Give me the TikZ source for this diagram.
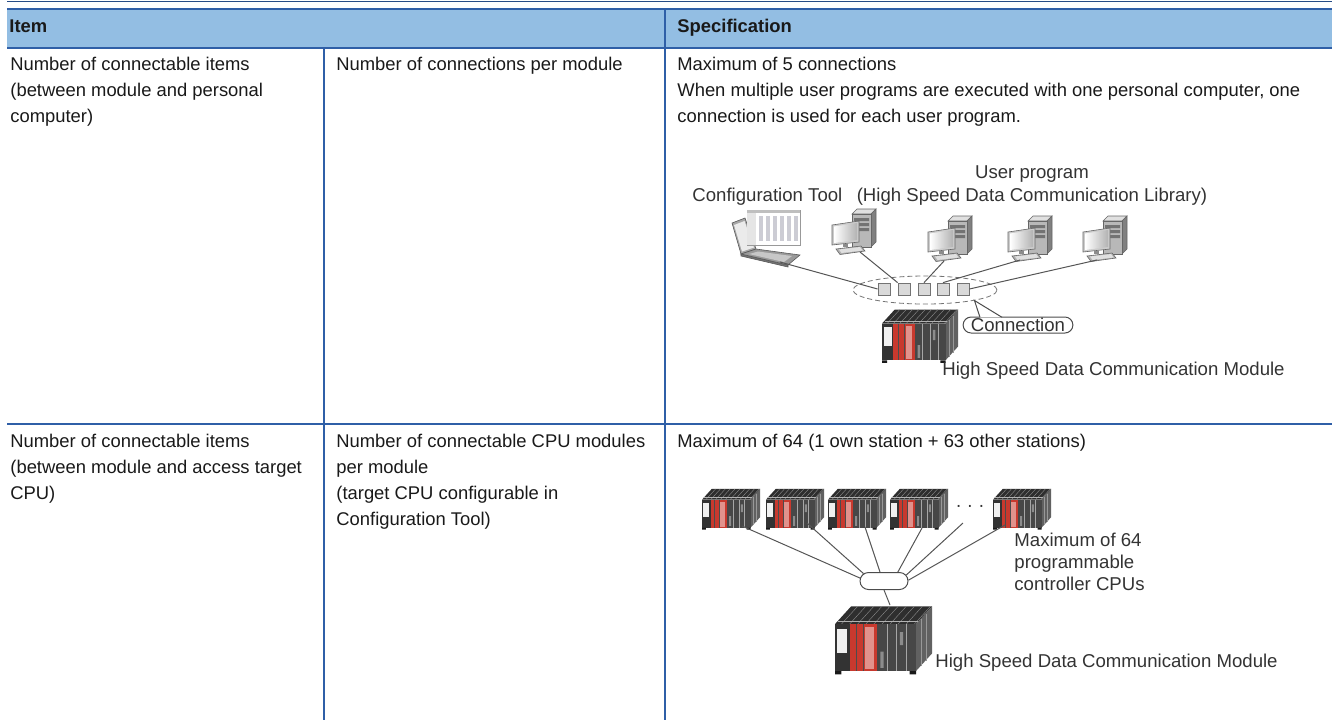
\documentclass[tikz,border=0pt]{standalone}
\usepackage{fontspec}
\setmainfont{Liberation Sans}
\usepackage{tikz}
\usetikzlibrary{shapes.geometric,shapes.misc,positioning,calc}

\definecolor{headblue}{HTML}{93BEE3}
\definecolor{ruleblue}{HTML}{2F5FA7}
\definecolor{plcred}{HTML}{C8392E}
\definecolor{linkgray}{HTML}{555555}

\newcommand{\cellfont}{\fontsize{9.2}{13}\selectfont}
\newcommand{\figfont}{\fontsize{9.3}{11}\selectfont}

% programmable controller rack, top left corner at (#1,#2), scale #3
\newcommand{\plcunit}[3]{%
  \begin{scope}[shift={(#1,#2)}, scale=#3]
    \fill[black!82] (0,13) -- (10,2) -- (60,2) -- (50,13) -- cycle;
    \foreach \k in {14,19,...,59} \draw[black!45, line width=0.2pt] (\k-10,13) -- (\k,2);
    \draw[black!30, line width=0.2pt] (2,11) -- (52,11);
    \fill[black!62] (50,13) -- (60,2) -- (60,31) -- (50,42) -- cycle;
    \draw[black!40, line width=0.2pt] (53,10) -- (53,39) (56,7) -- (56,36);
    \fill[black!80] (0,13) rectangle (9,42);
    \fill[black!6] (1.5,16) rectangle (7.5,31);
    \fill[plcred] (9,13) rectangle (26,42);
    \fill[plcred!55!white] (18.5,15) rectangle (24,41);
    \draw[black!70, line width=0.3pt] (13,13) -- (13,42) (17.5,13) -- (17.5,42);
    \fill[black!72] (26,13) rectangle (50,42);
    \foreach \k in {32,38,44} \draw[black!35, line width=0.3pt] (\k,13) -- (\k,42);
    \fill[black!45] (28,30) rectangle (30,40) (40,18) rectangle (42,26);
    \fill[black!90] (0,42) rectangle (4,44) (46,42) rectangle (50,44);
  \end{scope}}

% desktop personal computer, top left corner at (#1,#2)
\newcommand{\pcunit}[2]{%
  \begin{scope}[shift={(#1,#2)}, line width=0.3pt]
    \filldraw[draw=black!60, fill=black!12] (20,6) -- (25,1) -- (44,1) -- (39,6) -- cycle;
    \filldraw[draw=black!60, fill=black!50] (39,6) -- (44,1) -- (44,34) -- (39,39) -- cycle;
    \filldraw[draw=black!60, fill=black!28] (20,6) rectangle (39,39);
    \fill[black!55] (22,10) rectangle (37,13) (22,15) rectangle (37,18) (22,20) rectangle (37,23);
    \filldraw[draw=black!60, fill=black!20] (0,17) -- (27,13) -- (27,34) -- (0,37) -- cycle;
    \shade[left color=white, right color=black!30] (2,18.5) -- (25,15) -- (25,32) -- (2,35) -- cycle;
    \fill[black!45] (11,36) rectangle (16,39);
    \filldraw[draw=black!60, fill=black!30] (4,41) -- (29,38) -- (33,43) -- (8,46.5) -- cycle;
    \fill[black!12] (7,41.5) -- (28,39) -- (30.5,42.5) -- (9.5,45) -- cycle;
  \end{scope}}

% notebook with the tool window, top left corner at (#1,#2)
\newcommand{\laptopunit}[2]{%
  \begin{scope}[shift={(#1,#2)}, line width=0.3pt]
    \filldraw[draw=black!65, fill=black!35] (0,13) -- (13,8) -- (24,39) -- (9,44) -- cycle;
    \fill[black!8] (2,15) -- (12.5,11) -- (22,37.5) -- (10,41.5) -- cycle;
    \filldraw[draw=black!65, fill=black!55] (9,44) -- (9,46) -- (56,57) -- (56,55) -- cycle;
    \filldraw[draw=black!65, fill=black!40] (9,44) -- (24,39) -- (68,45) -- (56,55) -- cycle;
    \fill[black!22] (17,44) -- (26,41.5) -- (60,46) -- (52,52) -- cycle;
    \filldraw[draw=black!40, fill=white] (15,0) rectangle (68,35);
    \fill[black!25] (15,0) rectangle (68,2.5);
    \fill[black!10] (15,2.5) rectangle (24,35);
    \foreach \k in {27,34,41,48,55,62} \fill[blue!15!black!20] (\k,6) rectangle (\k+4,31);
  \end{scope}}

\begin{document}
\begin{tikzpicture}[
    x=0.5pt, y=-0.5pt,
    tabrule/.style={draw=ruleblue, line width=0.9pt},
    cell/.style={anchor=north west, inner sep=0pt, align=left, font=\cellfont, text=black!90},
    headtext/.style={anchor=base west, inner sep=0pt, font=\cellfont\bfseries, text=black!90},
    figtext/.style={anchor=base west, inner sep=0pt, font=\figfont, text=black!80},
    link/.style={draw=linkgray, line width=0.5pt},
    connsq/.style={draw=black!55, fill=black!15, line width=0.4pt, minimum size=6pt, inner sep=0pt},
    hubnode/.style={rounded rectangle, draw=black!70, fill=white, line width=0.5pt, minimum width=24pt, minimum height=8.5pt, inner sep=0pt}
]
    \useasboundingbox (0,0) rectangle (1332,720);

    % table
    \fill[headblue] (7,9) rectangle (1332,48);
    \draw[draw=ruleblue!80!black, line width=0.5pt] (7,1) -- (1332,1);
    \draw[tabrule] (7,9) -- (1332,9);
    \draw[tabrule] (7,48) -- (1332,48);
    \draw[tabrule] (7,424) -- (1332,424);
    \draw[tabrule] (324,48) -- (324,720);
    \draw[tabrule] (665,9) -- (665,720);

    \node[headtext] (itemhead) at (9,32) {Item};
    \node[headtext] (spechead) at (677,32) {Specification};

    \node[cell] (pcitem) at (10,51.8) {\strut Number of connectable items\\(between module and personal\\computer)};
    \node[cell] (pcsub) at (336,51.8) {\strut Number of connections per module};
    \node[cell] (pcspec) at (677,51.8) {\strut Maximum of 5 connections\\When multiple user programs are executed with one personal computer, one\\connection is used for each user program.};

    \node[cell] (cpuitem) at (10,428.8) {\strut Number of connectable items\\(between module and access target\\CPU)};
    \node[cell] (cpusub) at (336,428.8) {\strut Number of connectable CPU modules\\per module\\(target CPU configurable in\\Configuration Tool)};
    \node[cell] (cpuspec) at (677,428.8) {\strut Maximum of 64 (1 own station + 63 other stations)};

    % connections to personal computers
    \node[figtext] (cfgtoollabel) at (692,201) {Configuration Tool};
    \node[figtext, anchor=base] (userproglabel) at (1032,178) {User program};
    \node[figtext, anchor=base] (userliblabel) at (1032,201) {(High Speed Data Communication Library)};

    \laptopunit{732}{210}
    \pcunit{832}{208}
    \pcunit{928}{215}
    \pcunit{1008}{215}
    \pcunit{1083}{215}
    \plcunit{882}{307}{1.27}

    \coordinate (laptopport) at (780,262);
    \coordinate (pc1port) at (860,252);
    \coordinate (pc2port) at (944,261);
    \coordinate (pc3port) at (1020,260);
    \coordinate (pc4port) at (1097,260);

    \node[ellipse, draw=black!55, dash pattern=on 2.5pt off 1.5pt, line width=0.4pt, minimum width=72pt, minimum height=14pt, inner sep=0pt] (connring) at (925,290) {};
    \node[connsq] (conn1) at (884,289) {};
    \node[connsq] (conn2) at (904,289) {};
    \node[connsq] (conn3) at (924,289) {};
    \node[connsq] (conn4) at (943,289) {};
    \node[connsq] (conn5) at (963,289) {};

    \draw[link] (laptopport) -- (conn1.west);
    \draw[link] (pc1port) -- (conn2.north west);
    \draw[link] (pc2port) -- (conn3.north);
    \draw[link] (pc3port) -- (conn4.north);
    \draw[link] (pc4port) -- (conn5.east);

    \node[rounded rectangle, draw=black!70, line width=0.5pt, fill=white, font=\figfont, text=black!80, minimum height=8pt, inner ysep=0pt, inner xsep=2pt] (connlabel) at (1018,325) {Connection};
    \coordinate (tailtip) at (connring.-12);
    \coordinate (taila) at ($(connlabel.north)+(-38,0.8)$);
    \coordinate (tailb) at ($(connlabel.north)+(-16,0.8)$);
    \fill[white] (taila) -- (tailtip) -- (tailb) -- cycle;
    \draw[black!70, line width=0.5pt] (taila) -- (tailtip) -- (tailb);

    \node[figtext] (hsmodlabel) at (942,375) {High Speed Data Communication Module};

    % connections to CPU modules
    \plcunit{702}{487}{0.97}
    \plcunit{766}{487}{0.97}
    \plcunit{828}{487}{0.97}
    \plcunit{890}{487}{0.97}
    \plcunit{993}{487}{0.97}
    \plcunit{835}{603}{1.62}
    \node[font=\figfont, text=black!80, inner sep=0pt] (cpudots) at (970,508) {· · ·};

    \coordinate (cpuport1) at (742,526);
    \coordinate (cpuport2) at (807,523);
    \coordinate (cpuport3) at (865,527);
    \coordinate (cpuport4) at (922,528);
    \coordinate (dotsport) at (963,523);
    \coordinate (cpuport5) at (1005,525);
    \coordinate (mainport) at (890,605);

    \node[hubnode] (hub) at (884,581) {};
    \draw[link] (cpuport1) -- (hub.173);
    \draw[link] (cpuport2) -- (hub.160);
    \draw[link] (cpuport3) -- (hub.114);
    \draw[link] (cpuport4) -- (hub.33);
    \draw[link] (dotsport) -- (hub.15);
    \draw[link] (cpuport5) -- (hub.2);
    \draw[link] (hub.south) -- (mainport);

    \node[figtext, anchor=north west, align=left] (max64label) at (1014,530.6) {\strut Maximum of 64\\programmable\\controller CPUs};
    \node[figtext] (hsmodlabelb) at (935,667) {High Speed Data Communication Module};
\end{tikzpicture}
\end{document}
